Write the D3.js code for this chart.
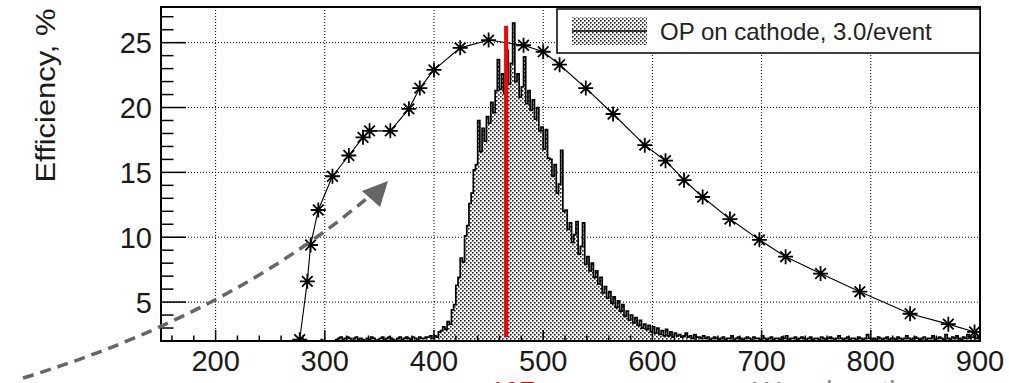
<!DOCTYPE html>
<html>
<head>
<meta charset="utf-8">
<script src="https://cdn.jsdelivr.net/npm/d3@7"></script>
<style>
  html, body { margin: 0; padding: 0; background: #fff; overflow: hidden; }
  svg { display: block; font-family: "Liberation Sans", Arial, sans-serif; }
</style>
</head>
<body>
<div id="chart"></div>
<script>
// efficiency curve (stars)
const effWavelength = [277, 284, 287, 294, 307, 322, 335, 341, 360, 377, 387, 400, 424, 450, 482,
  500, 515, 539, 564, 593, 612, 629, 646, 671, 698, 722, 754, 790, 836, 871, 895];
const effValue = [2.1, 6.6, 9.4, 12.1, 14.7, 16.3, 17.7, 18.2, 18.2, 19.9, 21.5, 22.9, 24.6, 25.2, 24.8,
  24.3, 23.3, 21.5, 19.5, 17.1, 15.9, 14.4, 13.1, 11.4, 9.8, 8.5, 7.2, 5.8, 4.1, 3.3, 2.7];

// OP spectrum on cathode, 2 nm bins, heights above the axis floor
const binWidth = 2;
const opLowStart = 296;
const opLow = [0.1, 0, 0, 0, 0, 0, 0, 0.1, 0.2, 0.3,
  0.1, 0.2, 0.3, 0.2, 0, 0.2, 0.3, 0.1, 0.2, 0.1,
  0, 0.2, 0.1, 0.3, 0.2, 0, 0.1, 0.2, 0.3, 0.1,
  0.2, 0.3, 0.2, 0.1, 0, 0.2, 0.3, 0.1, 0.2, 0.3,
  0.2, 0.1, 0.3, 0.2, 0.1, 0.3, 0.2, 0.2, 0.3, 0.3,
  0.4];
const opPeakStart = 398;
const opPeak = [0.2, 0.4, 0.3, 0.7, 0.8, 1.1, 0.9, 1.5, 1.3, 2.4,
  2.8, 4.3, 4.9, 6.4, 6.1, 8.1, 8.9, 10.6, 11.4, 13.2,
  13.6, 17.0, 14.6, 16.4, 15.4, 17.3, 16.8, 18.4, 17.6, 19.3,
  21.7, 19.4, 20.6, 19.1, 22.4, 19.8, 21.4, 24.5, 20.0, 20.6,
  18.8, 19.6, 21.9, 18.3, 19.3, 17.8, 18.6, 17.1, 18.0, 16.2,
  16.5, 14.8, 16.3, 14.1, 14.0, 12.7, 13.6, 11.4, 12.1, 14.7,
  10.0, 10.1, 8.6, 9.1, 7.6, 8.2, 9.2, 6.7, 7.3, 9.1,
  5.9, 6.5, 5.4, 6.0, 4.9, 5.4, 4.4, 4.9, 3.7, 4.2,
  3.3, 3.8, 2.9, 3.4, 2.6, 3.1, 2.3, 2.8, 1.9, 2.3,
  1.6, 2.0, 1.4, 1.8, 1.2, 1.6, 1.0, 1.3, 0.9, 1.2,
  0.7, 1.1, 0.6, 1.0, 0.5, 0.8, 0.4, 0.9, 0.4, 0.7,
  0.3, 0.6];
const opHighStart = 622;
const opHigh = [0.4, 0.5, 0.3, 0.4, 0.6, 0.3, 0.4, 0.2, 0.5, 0.3,
  0.3, 0.2, 0.4, 0.2, 0.3, 0.1, 0.2, 0.3, 0.2, 0.1,
  0.2, 0.3, 0.1, 0.2, 0.2, 0.4, 0.1, 0.2, 0.3, 0.2,
  0.1, 0.2, 0.3, 0.2, 0.1, 0.3, 0.2, 0.2, 0.1, 0.4,
  0.2, 0.1, 0.2, 0.3, 0.1, 0.2, 0.2, 0.1, 0.3, 0.2,
  0.4, 0.1, 0.2, 0.2, 0.3, 0.1, 0.2, 0.3, 0.2, 0.1,
  0.2, 0.3, 0.1, 0.2, 0.2, 0.1, 0.3, 0.2, 0.1, 0.2,
  0.3, 0.2, 0.1, 0.2, 0.4, 0.2, 0.1, 0.2, 0.3, 0.1,
  0.2, 0.2, 0.1, 0.3, 0.2, 0.1, 0.2, 0.5, 0.2, 0.1,
  0.2, 0.1, 0.3, 0.2, 0.1, 0.2, 0.3, 0.1, 0.2, 0.2,
  0.1, 0.3, 0.2, 0.1, 0.2, 0.4, 0.2, 0.1, 0.2, 0.3,
  0.2, 0.1, 0.2, 0.3, 0.1, 0.2, 0.2, 0.4, 0.1, 0.2,
  0.3, 0.2, 0.1, 0.5, 0.2, 0.1, 0.3, 0.2, 0.4, 0.2,
  0.1, 0.3, 0.2, 0.5, 0.2, 0.3, 0.4, 0.2, 0.3];

// red marker line (peak position)
const peakX = 466;
const peakRange = [2.3, 26.3];

const xTicks = [200, 300, 400, 500, 600, 700, 800, 900];
const yTicks = [5, 10, 15, 20, 25];
const legendLabel = "OP on cathode, 3.0/event";

const W = 1009, H = 383;
const L = 161, R = 980, T = 7, B = 341;

const x = d3.scaleLinear().domain([150, 900]).range([L, R]);
const y = d3.scaleLinear().domain([2, 27.75]).range([B, T]);
const y0 = y.domain()[0];

const svg = d3.select("#chart").append("svg").attr("width", W).attr("height", H);

const defs = svg.append("defs");
const pat = defs.append("pattern").attr("id", "dots").attr("patternUnits", "userSpaceOnUse")
  .attr("width", 4).attr("height", 4);
pat.append("rect").attr("width", 4).attr("height", 4).attr("fill", "#fff");
pat.append("rect").attr("x", 0).attr("y", 0).attr("width", 1.6).attr("height", 1.6).attr("fill", "#222");
pat.append("rect").attr("x", 2).attr("y", 2).attr("width", 1.6).attr("height", 1.6).attr("fill", "#222");

defs.append("clipPath").attr("id", "frame").append("rect")
  .attr("x", L).attr("y", T).attr("width", R - L).attr("height", B - T);

// grid
const grid = svg.append("g").attr("stroke", "#000").attr("stroke-width", 1).attr("stroke-dasharray", "1,2");
grid.selectAll(".gx").data(xTicks.filter(d => d < 900)).join("line")
  .attr("x1", d => x(d)).attr("x2", d => x(d)).attr("y1", T).attr("y2", B);
grid.selectAll(".gy").data(yTicks).join("line")
  .attr("x1", L).attr("x2", R).attr("y1", d => y(d)).attr("y2", d => y(d));

// histogram
const bins = [];
[[opLowStart, opLow], [opPeakStart, opPeak], [opHighStart, opHigh]].forEach(([start, vals]) => {
  vals.forEach((h, i) => bins.push({ x: start + i * binWidth, h: h }));
});
const last = bins[bins.length - 1];
const steps = bins.concat([{ x: last.x + binWidth, h: last.h }]);

const plot = svg.append("g").attr("clip-path", "url(#frame)");
plot.append("path").datum(steps)
  .attr("fill", "url(#dots)")
  .attr("d", d3.area().curve(d3.curveStepAfter).x(d => x(d.x)).y0(y(y0)).y1(d => y(y0 + d.h)));
plot.append("path").datum(steps)
  .attr("fill", "none").attr("stroke", "#000").attr("stroke-width", 1.7)
  .attr("d", d3.line().curve(d3.curveStepAfter).x(d => x(d.x)).y(d => y(y0 + d.h)));

// efficiency curve
const eff = effWavelength.map((w, i) => ({ w: w, v: effValue[i] }));
plot.append("path").datum(eff)
  .attr("fill", "none").attr("stroke", "#000").attr("stroke-width", 1.1)
  .attr("d", d3.line().x(d => x(d.w)).y(d => y(d.v)));
const s = 7.5, sd = 5.3;
const star = `M${-s},0H${s}M0,${-s}V${s}M${-sd},${-sd}L${sd},${sd}M${-sd},${sd}L${sd},${-sd}`;
plot.selectAll(".star").data(eff).join("path")
  .attr("transform", d => `translate(${x(d.w)},${y(d.v)})`)
  .attr("d", star).attr("stroke", "#000").attr("stroke-width", 1.8).attr("fill", "none");

// red line
svg.append("line")
  .attr("x1", x(peakX)).attr("x2", x(peakX)).attr("y1", y(peakRange[1])).attr("y2", y(peakRange[0]))
  .attr("stroke", "#f00").attr("stroke-width", 4);

// ticks (inward)
const minorX = d3.range(160, 901, 20);
const minorY = d3.range(2, 28, 1);
const ticks = svg.append("g").attr("stroke", "#000").attr("stroke-width", 1.5);
ticks.selectAll(".tx").data(minorX).join("line")
  .attr("x1", d => x(d)).attr("x2", d => x(d)).attr("y1", B)
  .attr("y2", d => B - (d % 100 === 0 ? 11 : 5.5));
ticks.selectAll(".ty").data(minorY).join("line")
  .attr("y1", d => y(d)).attr("y2", d => y(d)).attr("x1", L)
  .attr("x2", d => L + (d % 5 === 0 ? 25 : 12.5));

// frame
svg.append("rect").attr("x", L).attr("y", T).attr("width", R - L).attr("height", B - T)
  .attr("fill", "none").attr("stroke", "#000").attr("stroke-width", 2);

// tick labels
svg.append("g").selectAll("text").data(xTicks).join("text")
  .attr("x", d => x(d)).attr("y", 371).attr("text-anchor", "middle")
  .attr("font-size", 29).attr("fill", "#1a1a1a").text(d => d);
svg.append("g").selectAll("text").data(yTicks).join("text")
  .attr("x", 152).attr("y", d => y(d)).attr("dy", "0.36em").attr("text-anchor", "end")
  .attr("font-size", 29).attr("fill", "#1a1a1a").text(d => d);

svg.append("text")
  .attr("transform", "translate(55,95.5) rotate(-90)")
  .attr("text-anchor", "middle").attr("font-size", 28).attr("fill", "#1a1a1a")
  .attr("textLength", 174).attr("lengthAdjust", "spacingAndGlyphs")
  .text("Efficiency, %");

// legend
const lg = svg.append("g");
lg.append("rect").attr("x", 557).attr("y", 9).attr("width", R - 557).attr("height", 44)
  .attr("fill", "#fff").attr("stroke", "#000").attr("stroke-width", 1.5);
lg.append("rect").attr("x", 572).attr("y", 17).attr("width", 75).attr("height", 28).attr("fill", "url(#dots)");
lg.append("line").attr("x1", 572).attr("x2", 647).attr("y1", 31).attr("y2", 31)
  .attr("stroke", "#000").attr("stroke-width", 1.4);
lg.append("text").attr("x", 660).attr("y", 39.5).attr("font-size", 24).attr("fill", "#222")
  .text(legendLabel);

// dashed arrow annotation
svg.append("path").attr("d", "M23,378 Q230,315 372,194")
  .attr("fill", "none").attr("stroke", "#666").attr("stroke-width", 3.5).attr("stroke-dasharray", "11,7");
svg.append("path").attr("d", "M388,181 L362,191 L380,207 Z").attr("fill", "#666");

// texts of the panel below, cut by the image edge (as in the reference)
svg.append("text").attr("x", 487).attr("y", 402).attr("font-size", 29).attr("fill", "#f00").text("467 nm");
svg.append("text").attr("x", 753).attr("y", 402).attr("font-size", 29).attr("fill", "#888").text("Wavelength, nm");
</script>
</body>
</html>
